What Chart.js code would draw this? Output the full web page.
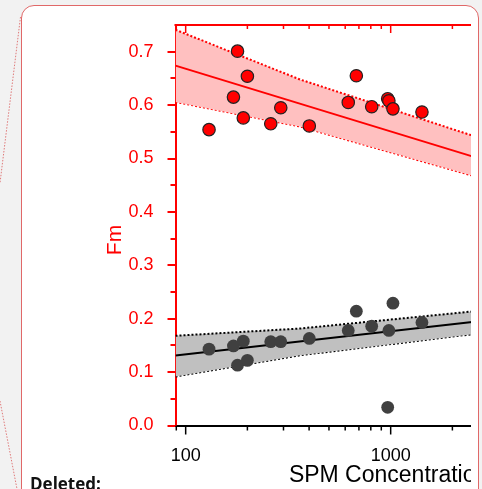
<!DOCTYPE html>
<html>
<head>
<meta charset="utf-8">
<script src="https://cdn.jsdelivr.net/npm/chart.js@4.4.0/dist/chart.umd.min.js"></script>
<style>
  html, body { margin:0; padding:0; width:482px; height:489px; overflow:hidden; background:#f2f2f2; position:relative; }
  #card { position:absolute; left:21px; top:5px; width:456px; height:560px; background:#fff; border:1px solid #e06868; border-radius:13px; }
  #links { position:absolute; left:0; top:0; }
  #clip { position:absolute; left:0; top:0; width:471px; height:489px; overflow:hidden; }
  #chart { position:absolute; left:0; top:0; }
  #deleted { position:absolute; left:30px; top:475px; font:bold 17px/17px "Open Sans", sans-serif; color:#111; white-space:nowrap; }
</style>
</head>
<body>
<div id="card"></div>
<svg id="links" width="482" height="489">
  <line x1="20.5" y1="17" x2="0" y2="183" stroke="#e07a7a" stroke-width="1" stroke-dasharray="1.5 1.5"/>
  <line x1="0" y1="401" x2="17" y2="489" stroke="#e07a7a" stroke-width="1" stroke-dasharray="1.5 1.5"/>
</svg>
<div id="clip"><canvas id="chart" width="620" height="489"></canvas></div>
<div id="deleted">Deleted:</div>
<script>
// samples: SPM (x, log) and Fm of the two fractions
const SPM      = [130, 171, 179, 191, 200, 260, 291, 401, 621, 680, 808, 967, 980, 1026, 1421];
const FM_RED   = [0.554, 0.615, 0.701, 0.576, 0.654, 0.565, 0.595, 0.561, 0.605, 0.655, 0.597, 0.612, 0.608, 0.593, 0.587];
const FM_GRAY  = [0.143, 0.149, 0.113, 0.158, 0.122, 0.157, 0.157, 0.163, 0.178, 0.214, 0.186, 0.034, 0.178, 0.229, 0.193];

// regression lines and confidence bands
const FIT_X    = [89.2, 2500];
const RED_FIT  = [0.674, 0.504];
const GRAY_FIT = [0.131, 0.194];
const BAND_X   = [89.2, 361, 2500];
const RED_UP   = [0.741, 0.648, 0.543];
const RED_LO   = [0.606, 0.560, 0.468];
const GRAY_UP  = [0.168, 0.1816, 0.2135];
const GRAY_LO  = [0.0918, 0.1315, 0.171];

// axes
const X_MIN = 89.2, X_MAX = 10700;
const X_TICKS = [100, 1000];
const X_MINOR = [90, 200, 300, 400, 500, 600, 700, 800, 900, 2000, 3000, 4000, 5000, 6000, 7000, 8000, 9000];
const Y_TICKS = [0, 0.1, 0.2, 0.3, 0.4, 0.5, 0.6, 0.7];
const Y_MINOR = [0.05, 0.15, 0.25, 0.35, 0.45, 0.55, 0.65];

const RED = '#ff0000';
const pts = (xs, ys) => xs.map((x, i) => ({x, y: ys[i]}));

Chart.defaults.font.family = '"Liberation Sans", Arial, sans-serif';

// tick marks (minor/major), top axis line and the Fm label
const axisDeco = {
  id: 'axisDeco',
  afterDraw(chart) {
    const {ctx, chartArea: a, scales: {x, y}} = chart;
    ctx.save();
    ctx.lineWidth = 2;
    ctx.strokeStyle = RED;
    ctx.beginPath(); ctx.moveTo(a.left - 1, a.top); ctx.lineTo(a.right, a.top); ctx.stroke();
    Y_TICKS.forEach(v => { const p = Math.round(y.getPixelForValue(v)); ctx.beginPath(); ctx.moveTo(a.left - 8, p); ctx.lineTo(a.left, p); ctx.stroke(); });
    Y_MINOR.forEach(v => { const p = Math.round(y.getPixelForValue(v)); ctx.beginPath(); ctx.moveTo(a.left - 5, p); ctx.lineTo(a.left, p); ctx.stroke(); });
    ctx.lineWidth = 1.5;
    X_TICKS.forEach(v => { const p = x.getPixelForValue(v); ctx.beginPath(); ctx.moveTo(p, a.top); ctx.lineTo(p, a.top + 8); ctx.stroke(); });
    X_MINOR.forEach(v => { const p = x.getPixelForValue(v); ctx.beginPath(); ctx.moveTo(p, a.top); ctx.lineTo(p, a.top + 4); ctx.stroke(); });
    ctx.strokeStyle = '#000';
    X_TICKS.forEach(v => { const p = x.getPixelForValue(v); ctx.beginPath(); ctx.moveTo(p, a.bottom); ctx.lineTo(p, a.bottom + 9); ctx.stroke(); });
    X_MINOR.forEach(v => { const p = x.getPixelForValue(v); ctx.beginPath(); ctx.moveTo(p, a.bottom); ctx.lineTo(p, a.bottom + 5); ctx.stroke(); });
    // y title
    ctx.translate(121, 240);
    ctx.rotate(-Math.PI / 2);
    ctx.fillStyle = RED;
    ctx.font = '21px "Liberation Sans", Arial, sans-serif';
    ctx.textAlign = 'center';
    ctx.textBaseline = 'alphabetic';
    ctx.fillText('Fm', 0, 0);
    ctx.restore();
  }
};

const bandLine = (data, color, fill, bg) => ({
  type: 'line', data, borderColor: color, borderWidth: 2, borderDash: [2, 2],
  backgroundColor: bg, fill, pointRadius: 0, tension: 0, order: 5
});

new Chart(document.getElementById('chart'), {
  type: 'scatter',
  data: {
    datasets: [
      bandLine(pts(BAND_X, RED_UP), RED, '+1', '#ffc0c0'),
      bandLine(pts(BAND_X, RED_LO), RED, false, 'transparent'),
      bandLine(pts(BAND_X, GRAY_UP), '#000', '+1', '#c0c0c0'),
      bandLine(pts(BAND_X, GRAY_LO), '#000', false, 'transparent'),
      {type: 'line', data: pts(FIT_X, RED_FIT), borderColor: RED, borderWidth: 2, pointRadius: 0, fill: false, order: 3},
      {type: 'line', data: pts(FIT_X, GRAY_FIT), borderColor: '#000', borderWidth: 2, pointRadius: 0, fill: false, order: 3},
      {type: 'scatter', data: pts(SPM, FM_RED), backgroundColor: RED, borderColor: '#222', borderWidth: 1.2, pointRadius: 6.2, order: 1},
      {type: 'scatter', data: pts(SPM, FM_GRAY), backgroundColor: '#404040', borderColor: '#404040', borderWidth: 0, pointRadius: 6.4, order: 1}
    ]
  },
  options: {
    responsive: false,
    animation: false,
    events: [],
    layout: {padding: {left: 0, top: 25, right: 18.3, bottom: 0}},
    plugins: {legend: {display: false}, tooltip: {enabled: false}},
    scales: {
      x: {
        type: 'logarithmic', min: X_MIN, max: X_MAX,
        afterBuildTicks: s => { s.ticks = X_TICKS.map(v => ({value: v})); },
        afterFit: s => { s.height = 63.5; },
        grid: {display: false},
        border: {color: '#000', width: 2},
        ticks: {color: '#000', font: {size: 18}, padding: 12, autoSkip: false, maxRotation: 0, callback: v => String(v)},
        title: {display: true, text: 'SPM Concentration', color: '#000', font: {size: 23, lineHeight: 1}, padding: {top: 0, bottom: 1.5}}
      },
      y: {
        type: 'linear', min: 0, max: 0.75,
        afterBuildTicks: s => { s.ticks = Y_TICKS.map(v => ({value: v})); },
        afterFit: s => { s.width = 175.5; },
        grid: {display: false},
        border: {color: RED, width: 2},
        ticks: {color: RED, font: {size: 18}, padding: 14, callback: v => v.toFixed(1)}
      }
    }
  },
  plugins: [axisDeco]
});
</script>
</body>
</html>
